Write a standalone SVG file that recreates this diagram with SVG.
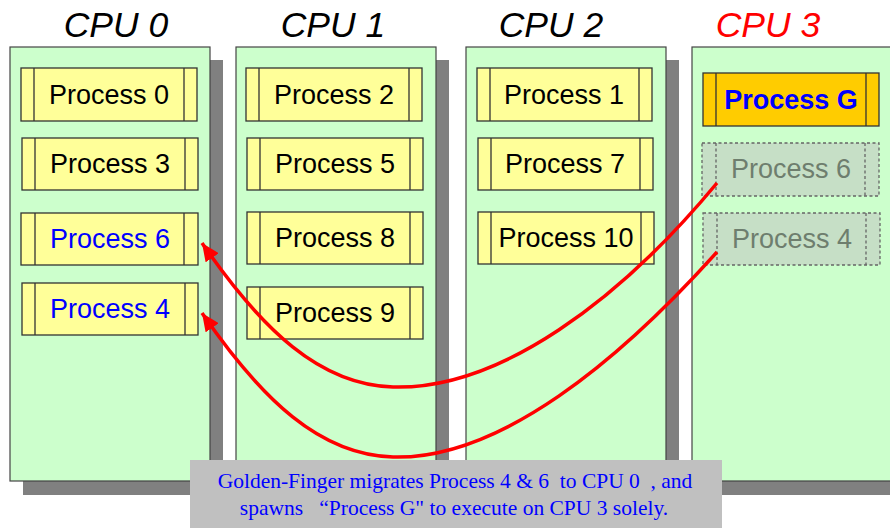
<svg xmlns="http://www.w3.org/2000/svg" width="890" height="528" viewBox="0 0 890 528">
<defs>
<style>
.shadow{fill:#808080}
.panel{fill:#CCFFCC;stroke:#444;stroke-width:1.2}
.proc{fill:#FFFF99;stroke:#333;stroke-width:1.3}
.procg{fill:#FFCC00;stroke:#333;stroke-width:1.3}
.ghost{fill:#C6DFC6;stroke:#666;stroke-width:1.3;stroke-dasharray:3,2.5}
.ptxt{font-family:"Liberation Sans",Arial,sans-serif;font-size:27px;text-anchor:middle;fill:#000}
.blue{fill:#0000FF}
.gtxt{font-family:"Liberation Sans",Arial,sans-serif;font-size:27px;font-weight:bold;text-anchor:middle;fill:#0000FF}
.gray{fill:#6E7E6E}
.title{font-family:"Liberation Sans",Arial,sans-serif;font-size:35.5px;font-style:italic;text-anchor:middle;fill:#000}
.cap{font-family:"Liberation Serif","Times New Roman",serif;font-size:21.5px;text-anchor:middle;fill:#0000FF}
.arrow{fill:none;stroke:#FF0000;stroke-width:3.5}
</style>
<marker id="ah" markerUnits="userSpaceOnUse" markerWidth="20" markerHeight="16" refX="18" refY="8" orient="auto">
<path d="M0,0 L18,8 L0,16 Z" fill="#FF0000"/>
</marker>
</defs>
<rect width="890" height="528" fill="#FFFFFF"/>

<g id="cpu0">
<text class="title" x="116" y="37">CPU 0</text>
<rect class="shadow" x="23" y="60" width="200" height="435"/>
<rect class="panel" x="10" y="47" width="200" height="434"/>
</g>
<g id="cpu1">
<text class="title" x="333" y="37">CPU 1</text>
<rect class="shadow" x="249" y="60" width="200" height="435"/>
<rect class="panel" x="236" y="47" width="200" height="434"/>
</g>
<g id="cpu2">
<text class="title" x="551" y="37">CPU 2</text>
<rect class="shadow" x="479" y="60" width="200" height="435"/>
<rect class="panel" x="466" y="47" width="200" height="434"/>
</g>
<g id="cpu3">
<text class="title" x="768" y="37" style="fill:#FF0000">CPU 3</text>
<rect class="shadow" x="705" y="60" width="200" height="435"/>
<rect class="panel" x="692" y="47" width="210" height="434"/>
</g>

<g id="p0"><rect class="proc" x="21" y="68" width="176" height="53"/><path d="M34,68V121M184,68V121" stroke="#333" stroke-width="1.3"/><text class="ptxt" x="109" y="104">Process 0</text></g>
<g id="p3"><rect class="proc" x="22" y="138" width="176" height="52"/><path d="M35,138V190M185,138V190" stroke="#333" stroke-width="1.3"/><text class="ptxt" x="110" y="173">Process 3</text></g>
<g id="p6-cpu0"><rect class="proc" x="21" y="213" width="177" height="52"/><path d="M35,213V265M184,213V265" stroke="#333" stroke-width="1.3"/><text class="ptxt blue" x="110" y="248">Process 6</text></g>
<g id="p4-cpu0"><rect class="proc" x="22" y="283" width="176" height="52"/><path d="M35,283V335M185,283V335" stroke="#333" stroke-width="1.3"/><text class="ptxt blue" x="110" y="318">Process 4</text></g>

<g id="p2"><rect class="proc" x="246" y="68" width="176" height="53"/><path d="M259,68V121M409,68V121" stroke="#333" stroke-width="1.3"/><text class="ptxt" x="334" y="104">Process 2</text></g>
<g id="p5"><rect class="proc" x="247" y="138" width="176" height="52"/><path d="M260,138V190M410,138V190" stroke="#333" stroke-width="1.3"/><text class="ptxt" x="335" y="173">Process 5</text></g>
<g id="p8"><rect class="proc" x="247" y="212" width="176" height="52"/><path d="M260,212V264M410,212V264" stroke="#333" stroke-width="1.3"/><text class="ptxt" x="335" y="247">Process 8</text></g>
<g id="p9"><rect class="proc" x="247" y="287" width="176" height="52"/><path d="M260,287V339M410,287V339" stroke="#333" stroke-width="1.3"/><text class="ptxt" x="335" y="322">Process 9</text></g>

<g id="p1"><rect class="proc" x="477" y="68" width="175" height="53"/><path d="M490,68V121M639,68V121" stroke="#333" stroke-width="1.3"/><text class="ptxt" x="564" y="104">Process 1</text></g>
<g id="p7"><rect class="proc" x="478" y="138" width="175" height="52"/><path d="M491,138V190M640,138V190" stroke="#333" stroke-width="1.3"/><text class="ptxt" x="565" y="173">Process 7</text></g>
<g id="p10"><rect class="proc" x="478" y="212" width="176" height="52"/><path d="M491,212V264M641,212V264" stroke="#333" stroke-width="1.3"/><text class="ptxt" x="566" y="247">Process 10</text></g>

<g id="pG"><rect class="procg" x="703" y="73" width="176" height="53"/><path d="M716,73V126M866,73V126" stroke="#333" stroke-width="1.3"/><text class="gtxt" x="791" y="109">Process G</text></g>
<g id="p6-cpu3"><rect class="ghost" x="702" y="143" width="177" height="53"/><path d="M716,143V196M865,143V196" stroke="#666" stroke-width="1.3" stroke-dasharray="3,2.5"/><text class="ptxt gray" x="791" y="178">Process 6</text></g>
<g id="p4-cpu3"><rect class="ghost" x="703" y="213" width="177" height="52"/><path d="M717,213V265M866,213V265" stroke="#666" stroke-width="1.3" stroke-dasharray="3,2.5"/><text class="ptxt gray" x="792" y="248">Process 4</text></g>

<g id="connectors">
<path class="arrow" marker-end="url(#ah)" d="M717,183 C620,300 500,390 393,387 C320,385 262,330 202,243"/>
<path class="arrow" marker-end="url(#ah)" d="M717,252 C620,360 500,460 393,457 C320,455 262,400 202,313"/>
</g>

<g id="caption">
<rect x="190" y="460" width="532" height="68" fill="#C0C0C0"/>
<text class="cap" x="455" y="488" xml:space="preserve">Golden-Finger migrates Process 4 &amp; 6  to CPU 0  , and</text>
<text class="cap" x="454" y="515" xml:space="preserve">spawns   “Process G" to execute on CPU 3 solely.</text>
</g>
</svg>
